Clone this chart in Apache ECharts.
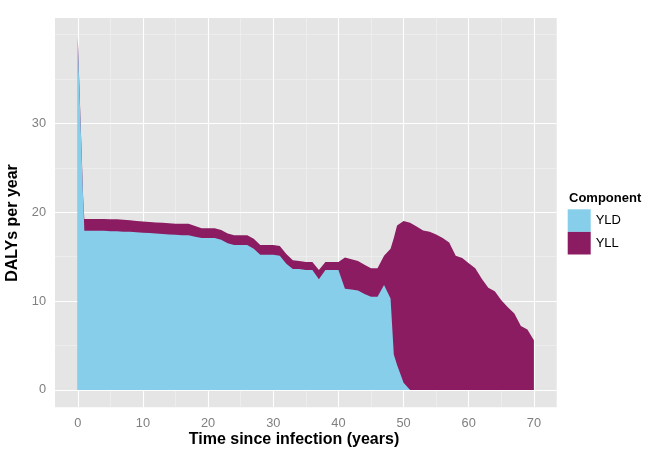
<!DOCTYPE html>
<html>
<head>
<meta charset="utf-8">
<script src="https://cdn.jsdelivr.net/npm/echarts@6/dist/echarts.min.js"></script>
<style>
  html, body { margin: 0; padding: 0; background: #fff; }
  #chart { width: 671px; height: 461px; }
</style>
</head>
<body>
<div id="chart"></div>
<script>
// time since infection (years)
const years = [
  0, 0.2, 0.4, 0.6, 0.8, 0.9,
  1, 2, 3, 4, 5, 6, 7, 8, 9, 10,
  11, 12, 13, 14, 15, 16, 17, 18, 19, 20,
  21, 22, 23, 24, 25, 26, 27, 28, 29, 30,
  31, 32, 33, 34, 35, 36, 37, 38, 39, 40,
  41, 42, 43, 44, 45, 46, 47, 48, 48.5, 49, 50,
  51, 52, 53, 54, 55, 56, 57, 58, 59, 60,
  61, 62, 63, 64, 65, 66, 67, 68, 69, 70
]

const yld = [
  39.3, 34.9, 30.5, 26.2, 21.8, 20.3,
  17.9, 17.9, 17.9, 17.9, 17.85, 17.85, 17.8, 17.8, 17.75, 17.7,
  17.65, 17.6, 17.55, 17.5, 17.45, 17.4, 17.4, 17.25, 17.1, 17.1,
  17.1, 16.9, 16.5, 16.3, 16.3, 16.3, 15.9, 15.2, 15.2, 15.2,
  15.1, 14.2, 13.6, 13.6, 13.5, 13.5, 12.45, 13.5, 13.5, 13.5,
  11.4, 11.3, 11.2, 10.8, 10.5, 10.5, 11.8, 10.3, 4.0, 2.8, 0.8,
  0, 0, 0, 0, 0, 0, 0, 0, 0, 0,
  0, 0, 0, 0, 0, 0, 0, 0, 0, 0
]

const yll = [
  0.4, 0.35, 0.3, 0.3, 0.25, 0.2,
  1.34, 1.34, 1.34, 1.34, 1.35, 1.35, 1.35, 1.3, 1.25, 1.25,
  1.25, 1.25, 1.25, 1.25, 1.25, 1.3, 1.3, 1.2, 1.1, 1.1,
  1.1, 1.1, 1.1, 1.1, 1.1, 1.1, 1.1, 1.1, 1.1, 1.1,
  1.1, 1.1, 1.0, 0.9, 0.9, 0.9, 1.05, 0.9, 0.9, 0.9,
  3.5, 3.4, 3.3, 3.3, 3.2, 3.2, 3.3, 5.6, 13.1, 15.7, 18.2,
  18.8, 18.4, 17.95, 17.8, 17.5, 17.1, 16.6, 15.1, 14.85, 14.25,
  13.7, 12.5, 11.5, 11.1, 10.1, 9.3, 8.6, 7.2, 6.8, 5.6
]

const xTicks = [0, 10, 20, 30, 40, 50, 60, 70]
const xMinor = [5, 15, 25, 35, 45, 55, 65]
const yTicks = [0, 10, 20, 30]
const yMinor = [5, 15, 25, 35, 40]

const font = 'Liberation Sans, Arial, sans-serif'
const chart = echarts.init(document.getElementById('chart'))

// YLL sits on top of YLD: its outline is the running total
const yldPts = years.map((x, i) => [x, yld[i]])
const totalPts = years.map((x, i) => [x, yld[i] + yll[i]])

const minorStyle = { color: '#F2F2F2', width: 0.6, type: 'solid' }
const majorStyle = { color: '#FFFFFF', width: 1.1, type: 'solid' }
const gridLines = []
xMinor.forEach(v => gridLines.push({ xAxis: v, lineStyle: minorStyle }))
yMinor.forEach(v => gridLines.push({ yAxis: v, lineStyle: minorStyle }))
xTicks.forEach(v => gridLines.push({ xAxis: v, lineStyle: majorStyle }))
yTicks.forEach(v => gridLines.push({ yAxis: v, lineStyle: majorStyle }))

chart.setOption({
  animation: false,
  backgroundColor: '#FFFFFF',
  textStyle: { fontFamily: font },
  grid: {
    left: 55,
    right: 114.3,
    top: 18,
    bottom: 53.7,
    show: true,
    backgroundColor: '#E5E5E5',
    borderWidth: 0
  },
  xAxis: {
    type: 'value',
    min: -3.5,
    max: 73.5,
    axisLine: { show: false },
    splitLine: { show: false },
    axisTick: {
      show: true,
      length: 4.5,
      customValues: xTicks,
      lineStyle: { color: '#7F7F7F' }
    },
    axisLabel: {
      customValues: xTicks,
      margin: 10,
      color: '#7F7F7F',
      fontSize: 12.8,
      fontFamily: font
    }
  },
  yAxis: {
    type: 'value',
    min: -1.95,
    max: 41.85,
    axisLine: { show: false },
    splitLine: { show: false },
    axisTick: {
      show: true,
      length: 4.5,
      customValues: yTicks,
      lineStyle: { color: '#7F7F7F' }
    },
    axisLabel: {
      customValues: yTicks,
      margin: 9,
      color: '#7F7F7F',
      fontSize: 12.8,
      fontFamily: font
    }
  },
  legend: {
    orient: 'vertical',
    left: 567.7,
    top: 209.3,
    padding: 0,
    itemGap: 0,
    itemWidth: 23,
    itemHeight: 22.6,
    icon: 'rect',
    selectedMode: false,
    textStyle: { fontSize: 13, color: '#000000', fontFamily: font },
    data: ['YLD', 'YLL']
  },
  graphic: [
    {
      type: 'text',
      left: 569,
      top: 192,
      style: { text: 'Component', font: 'bold 13px ' + font, fill: '#000000' }
    },
    {
      type: 'text',
      x: 294,
      y: 440,
      style: {
        text: 'Time since infection (years)',
        font: 'bold 16px ' + font,
        fill: '#000000',
        textAlign: 'center',
        textVerticalAlign: 'middle'
      }
    },
    {
      type: 'text',
      x: 12.5,
      y: 223,
      rotation: Math.PI / 2,
      style: {
        text: 'DALYs per year',
        font: 'bold 16px ' + font,
        fill: '#000000',
        textAlign: 'center',
        textVerticalAlign: 'middle'
      }
    }
  ],
  series: [
    {
      name: 'grid',
      type: 'line',
      z: 1,
      silent: true,
      symbol: 'none',
      lineStyle: { width: 0, opacity: 0 },
      data: [[0, 0]],
      markLine: {
        z: 1,
        silent: true,
        symbol: ['none', 'none'],
        label: { show: false },
        emphasis: { disabled: true },
        data: gridLines
      }
    },
    {
      name: 'YLL',
      type: 'line',
      z: 3,
      symbol: 'none',
      color: '#8B1C62',
      lineStyle: { width: 0 },
      areaStyle: { color: '#8B1C62', opacity: 1 },
      data: totalPts
    },
    {
      name: 'YLD',
      type: 'line',
      z: 4,
      symbol: 'none',
      color: '#87CEEB',
      lineStyle: { width: 0 },
      areaStyle: { color: '#87CEEB', opacity: 1 },
      data: yldPts
    }
  ]
})
</script>
</body>
</html>
